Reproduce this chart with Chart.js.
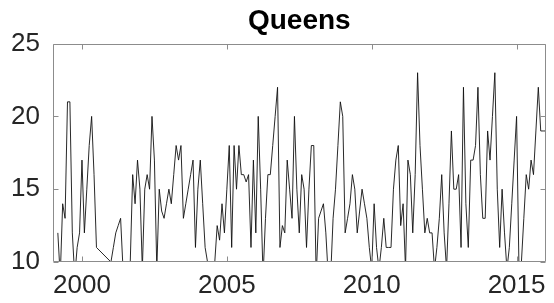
<!DOCTYPE html>
<html>
<head>
<meta charset="utf-8">
<script src="https://cdn.jsdelivr.net/npm/chart.js@4/dist/chart.umd.min.js"></script>
<style>
html,body{margin:0;padding:0;background:#fff;}
#wrap{width:554px;height:303px;position:relative;}
</style>
</head>
<body>
<div id="wrap"><canvas id="c" width="554" height="303"></canvas></div>
<script>
// ---- data (monthly values, first entry = Jan 1999) ----
const chartTitle = 'Queens';
const startYear = 1999;
const v1999 = [null, null, 12, 9, 14, 13, 21, 21, 12, 9, 11, 12];
const v2000 = [17, 12, 15, 18, 20, 16, 11, null, null, null, null, null];
const v2001 = [10, 11, 12, 12.5, 13, 9.5, 10, 10, 10, 16, 14, 17];
const v2002 = [15, 9.5, 15, 16, 15, 20, 17, 9.5, 15, 13.5, 13, 14];
const v2003 = [15, 14, 16, 18, 17, 18, 13, 14, 15, 16, 17, 11];
const v2004 = [15, 17, 14, 11, 10, 9, 9, 10, 12.5, 11.5, 14, 12];
const v2005 = [15, 18, 11, 18, 15, 18, 16, 16, 15.5, 16, 11, 17];
const v2006 = [12, 20, 15, 9, 13, 16, 16, 18, 20, 22, 11, 12.5];
const v2007 = [12, 17, 15, 13, 20, 15, 12, 16, 15, 11, 15, 18];
const v2008 = [18, 9, 13, 13.5, 14, 12, 9, 9, 13, 15, 18, 21];
const v2009 = [20, 12, 13, 14, 16, 15, 12, 13.5, 15, 14, 13, 11];
const v2010 = [9.5, 14, 11, 9.5, 11, 13, 11, 11, 11, 15, 17, 18];
const v2011 = [12.5, 14, 9.5, 17, 16, 12, 16, 23, 18, 15, 12, 13];
const v2012 = [12, 12, 9.5, 11, 13, 16, 12, 9.5, 14, 19, 15, 15];
const v2013 = [16, 11, 22, 14, 11, 17, 17, 18, 22, 16, 13, 13];
const v2014 = [19, 17, 20, 23, 15, 11, 15, 12, 9.5, 11, 14, 17];
const v2015 = [20, 9.5, 10, 13, 16, 15, 17, 16, 19, 22, 19, 19];
const v2016 = [19];
const xTicks = [2000, 2005, 2010, 2015];
const yTicks = [10, 15, 20, 25];
const xRange = [1999, 2016];
const yRange = [10, 25];

const values = [].concat(v1999, v2000, v2001, v2002, v2003, v2004, v2005, v2006,
  v2007, v2008, v2009, v2010, v2011, v2012, v2013, v2014, v2015, v2016);
const points = values.map((v, i) => ({ x: startYear + i / 12, y: v }));

const FONT = "'Liberation Sans', Arial, Helvetica, sans-serif";

const framePlugin = {
  id: 'frame',
  afterDatasetsDraw(chart) {
    const { ctx, chartArea: a, scales } = chart;
    const L = Math.round(a.left) + 0.5, R = Math.round(a.right) - 0.5;
    const T = Math.round(a.top) + 0.5, B = Math.round(a.bottom) - 0.5;
    const tl = 5;
    ctx.save();
    ctx.strokeStyle = '#8c8c8c';
    ctx.lineWidth = 1;
    ctx.beginPath();
    ctx.rect(L, T, R - L, B - T);
    xTicks.forEach(v => {
      const px = Math.round(scales.x.getPixelForValue(v)) + 0.5;
      ctx.moveTo(px, T); ctx.lineTo(px, T + tl);
      ctx.moveTo(px, B); ctx.lineTo(px, B - tl);
    });
    yTicks.forEach(v => {
      const py = Math.round(scales.y.getPixelForValue(v)) + 0.5;
      ctx.moveTo(L, py); ctx.lineTo(L + tl, py);
      ctx.moveTo(R, py); ctx.lineTo(R - tl, py);
    });
    ctx.stroke();
    ctx.restore();
  }
};

new Chart(document.getElementById('c'), {
  type: 'line',
  data: {
    datasets: [{
      data: points,
      borderColor: '#111',
      borderWidth: 0.9,
      pointRadius: 0,
      tension: 0,
      spanGaps: true,
      clip: 0,
      fill: false
    }]
  },
  options: {
    responsive: false,
    devicePixelRatio: 1,
    animation: false,
    layout: { padding: { left: 0, right: 2, top: 0, bottom: 0 } },
    plugins: {
      legend: { display: false },
      tooltip: { enabled: false },
      title: {
        display: true,
        fullSize: false,
        text: chartTitle,
        color: '#000',
        font: { family: FONT, size: 28, weight: 'bold', lineHeight: 1.2 },
        padding: { top: 4, bottom: 6 }
      }
    },
    scales: {
      x: {
        type: 'linear',
        min: xRange[0], max: xRange[1],
        grid: { display: false, drawTicks: false },
        border: { display: false },
        ticks: {
          color: '#262626',
          font: { family: FONT, size: 26 },
          padding: 8,
          maxRotation: 0,
          autoSkip: false,
          callback: v => String(v)
        },
        afterBuildTicks: s => { s.ticks = xTicks.map(v => ({ value: v })); },
        afterFit: s => { s.height = 41; }
      },
      y: {
        min: yRange[0], max: yRange[1],
        grid: { display: false, drawTicks: false },
        border: { display: false },
        ticks: {
          color: '#262626',
          font: { family: FONT, size: 26 },
          padding: 13,
          callback: v => String(v)
        },
        afterBuildTicks: s => { s.ticks = yTicks.map(v => ({ value: v })); },
        afterFit: s => { s.width = 53; }
      }
    }
  },
  plugins: [framePlugin]
});
</script>
</body>
</html>
